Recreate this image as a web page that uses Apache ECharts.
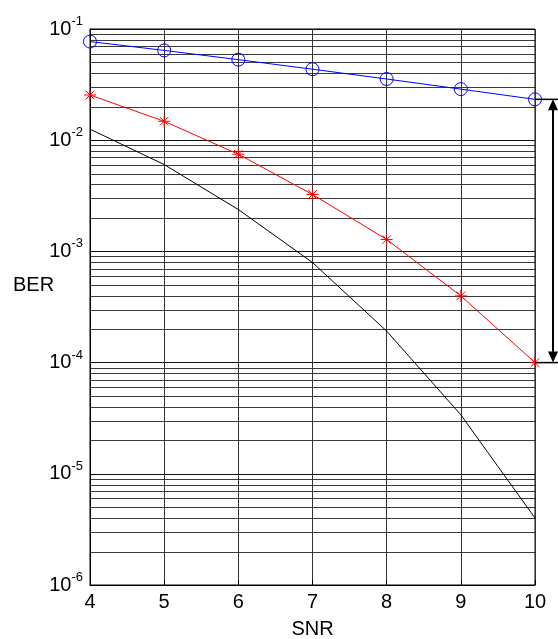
<!DOCTYPE html>
<html>
<head>
<meta charset="utf-8">
<script src="https://cdn.jsdelivr.net/npm/echarts@6/dist/echarts.min.js"></script>
<style>
  html, body { margin: 0; padding: 0; background: #fff; }
  #chart { width: 558px; height: 639px; }
</style>
</head>
<body>
<div id="chart"></div>
<script>
// SNR points (dB)
const snr = [4, 5, 6, 7, 8, 9, 10];
// Bit error rates per curve
const berCircle = [0.0771, 0.0642, 0.0530, 0.0435, 0.0355, 0.0288, 0.0233];
const berStar = [0.0255, 0.0148, 0.00748, 0.00325, 0.00128, 0.000398, 0.0001];
const berPlain = [0.01257, 0.00604, 0.00238, 0.000794, 0.000192, 0.0000339, 0.0000040];
// Decade limits of the log axis
const yMin = 1e-6;
const yMax = 1e-1;

const FONT = 'Liberation Sans, Arial, sans-serif';

function pairs(ys) { return snr.map((x, i) => [x, ys[i]]); }

const starPath = 'path://M0,-6L0,6M-6,0L6,0M-4.3,-4.3L4.3,4.3M-4.3,4.3L4.3,-4.3';

const chart = echarts.init(document.getElementById('chart'), null, { renderer: 'canvas' });

const option = {
  animation: false,
  backgroundColor: '#fff',
  grid: {
    left: 90, right: 23, top: 29, bottom: 54,
    containLabel: false, outerBoundsMode: 'none',
    show: true, borderColor: '#000', borderWidth: 1, backgroundColor: 'transparent'
  },
  xAxis: {
    type: 'value', min: 4, max: 10, interval: 1,
    name: 'SNR', nameLocation: 'middle', nameGap: 34,
    nameTextStyle: { fontFamily: FONT, fontSize: 20, color: '#000' },
    axisLine: { lineStyle: { color: '#000', width: 1 } },
    axisTick: { inside: true, length: 5, lineStyle: { color: '#000' } },
    axisLabel: { fontFamily: FONT, fontSize: 20, color: '#000', margin: 7 },
    splitLine: { show: true, lineStyle: { color: '#333', width: 1 } }
  },
  yAxis: {
    type: 'log', logBase: 10, min: yMin, max: yMax,
    axisLine: { lineStyle: { color: '#000', width: 1 } },
    axisTick: { inside: true, length: 5, lineStyle: { color: '#000' } },
    axisLabel: {
      fontFamily: FONT, color: '#000', margin: 7,
      formatter: v => '{b|10}{e|' + Math.round(Math.log10(v)) + '}',
      rich: {
        b: { fontFamily: FONT, fontSize: 20, color: '#000' },
        e: { fontFamily: FONT, fontSize: 13, color: '#000', padding: [0, 0, 15, 0] }
      }
    },
    splitLine: { show: true, lineStyle: { color: '#111', width: 1 } }
  },
  series: [
    {
      name: 'plain', type: 'line', data: pairs(berPlain), showSymbol: false, clip: false, z: 3,
      lineStyle: { color: '#000', width: 1 }, itemStyle: { color: '#000' }
    },
    {
      name: 'star', type: 'line', data: pairs(berStar), clip: false, z: 4,
      symbol: starPath, symbolSize: 12,
      lineStyle: { color: '#ff0000', width: 1 },
      itemStyle: { color: 'rgba(0,0,0,0)', borderColor: '#ff0000', borderWidth: 1 }
    },
    {
      name: 'circle', type: 'line', data: pairs(berCircle), clip: false, z: 5,
      symbol: 'circle', symbolSize: 13,
      lineStyle: { color: '#0000ff', width: 1 },
      itemStyle: { color: 'rgba(0,0,0,0)', borderColor: '#0000ff', borderWidth: 1 }
    }
  ]
};

chart.setOption(option);

const toPx = p => chart.convertToPixel({ xAxisIndex: 0, yAxisIndex: 0 }, p);
const graphics = [
  { type: 'text', left: 13, top: 275, style: { text: 'BER', fontFamily: FONT, fontSize: 20, fill: '#000' } }
];

// Minor log grid lines (2..9 within each decade), placed through the axis scale
const xl = toPx([4, yMin])[0];
const xr = toPx([10, yMin])[0];
for (let e = -6; e <= -2; e++) {
  for (let m = 2; m <= 9; m++) {
    const y = Math.round(toPx([4, m * Math.pow(10, e)])[1]) + 0.5;
    graphics.push({ type: 'line', z: -1, silent: true,
      shape: { x1: xl, y1: y, x2: xr, y2: y }, style: { stroke: '#3a3a3a', lineWidth: 1 } });
  }
}

// Double arrow marking the gap between the two curves at the last SNR point
const last = snr.length - 1;
const pTop = toPx([snr[last], berCircle[last]]);
const pBot = toPx([snr[last], berStar[last]]);
const ax = pTop[0] + 18;
const head = 10, half = 5;
graphics.push(
  { type: 'line', z: 10, shape: { x1: pTop[0], y1: pTop[1], x2: 558, y2: pTop[1] }, style: { stroke: '#000', lineWidth: 1.5 } },
  { type: 'line', z: 10, shape: { x1: pBot[0], y1: pBot[1], x2: 558, y2: pBot[1] }, style: { stroke: '#000', lineWidth: 1.5 } },
  { type: 'line', z: 10, shape: { x1: ax, y1: pTop[1] + head, x2: ax, y2: pBot[1] - head }, style: { stroke: '#000', lineWidth: 2 } },
  { type: 'polygon', z: 10, shape: { points: [[ax, pTop[1]], [ax - half, pTop[1] + head + 1], [ax + half, pTop[1] + head + 1]] }, style: { fill: '#000' } },
  { type: 'polygon', z: 10, shape: { points: [[ax, pBot[1]], [ax - half, pBot[1] - head - 1], [ax + half, pBot[1] - head - 1]] }, style: { fill: '#000' } }
);
chart.setOption({ graphic: graphics });
</script>
</body>
</html>
